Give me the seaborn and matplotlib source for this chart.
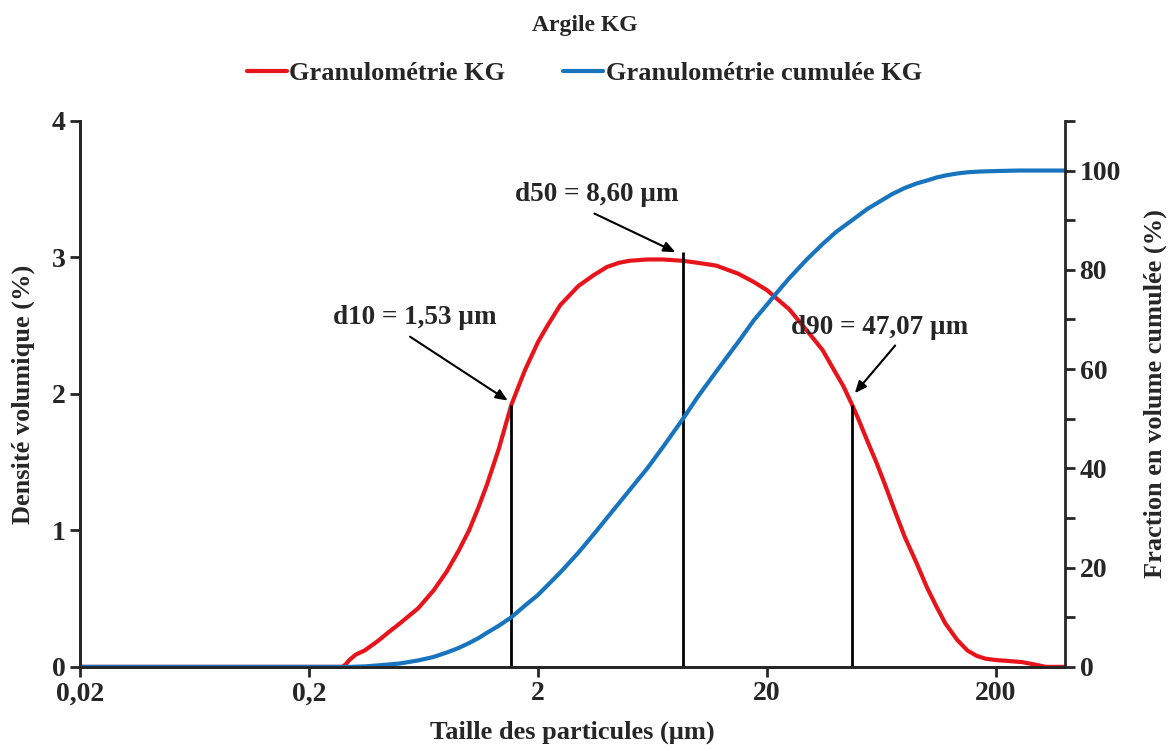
import numpy as np
import pandas as pd
import matplotlib
matplotlib.use("Agg")
import matplotlib.pyplot as plt
import seaborn as sns
from matplotlib.ticker import FixedLocator, FuncFormatter, MultipleLocator

# particle size (um) and density (%)
taille_dens = [0.02, 0.1, 0.28, 0.29, 0.30, 0.32, 0.35, 0.40, 0.45, 0.5, 0.6, 0.7, 0.8, 0.9,
               1.0, 1.1, 1.2, 1.35, 1.53, 1.75, 2.0, 2.2, 2.5, 3.0, 3.5, 4.0, 4.5, 5.0, 6.0,
               7.0, 8.6, 10, 12, 15, 17.5, 20, 22, 25, 30, 35, 40, 43, 47.07, 50, 55, 60,
               65, 72, 80, 90, 100, 110, 120, 135, 150, 165, 180, 200, 220, 260, 300, 330, 400]
densite = [0, 0, 0, 0.02, 0.05, 0.09, 0.12, 0.19, 0.26, 0.32, 0.43, 0.56, 0.70, 0.85,
           1.0, 1.17, 1.34, 1.6, 1.92, 2.17, 2.38, 2.5, 2.65, 2.79, 2.87, 2.93, 2.96, 2.975, 2.985,
           2.985, 2.975, 2.96, 2.94, 2.88, 2.82, 2.76, 2.70, 2.62, 2.46, 2.32, 2.15, 2.06, 1.92, 1.82,
           1.65, 1.5, 1.35, 1.15, 0.95, 0.76, 0.58, 0.44, 0.32, 0.2, 0.12, 0.08, 0.06, 0.05,
           0.045, 0.035, 0.015, 0, 0]

# cumulative fraction (%)
taille_cum = [0.02, 0.1, 0.3, 0.35, 0.4, 0.45, 0.5, 0.6, 0.7, 0.8, 0.9, 1.0, 1.1, 1.2, 1.35,
              1.53, 1.75, 2.0, 2.5, 3.0, 3.5, 4.0, 5.0, 6.0, 7.0, 8.6, 10, 12, 15, 17.5, 20,
              22, 25, 30, 35, 40, 47.07, 55, 65, 70, 80, 90, 100, 110, 120, 135, 150, 170,
              200, 250, 300, 400]
cumul = [0, 0, 0, 0.1, 0.3, 0.5, 0.7, 1.3, 2.0, 2.9, 3.8, 4.8, 5.8, 6.9, 8.3,
         10, 12.3, 14.5, 19, 23, 26.7, 30, 35.5, 40, 44.2, 50, 54.5, 59.5, 65.5, 69.8, 73,
         75.3, 78.3, 82.2, 85.2, 87.6, 90, 92.3, 94.3, 95.2, 96.5, 97.4, 98, 98.6, 99, 99.4, 99.65, 99.8,
         99.9, 100, 100, 100]

# characteristic diameters
d_vals = [1.53, 8.60, 47.07]
d_hauts = [1.92, 3.04, 1.92]

x_ticks = [0.02, 0.2, 2, 20, 200]

df_dens = pd.DataFrame({"taille": taille_dens, "val": densite})
df_cum = pd.DataFrame({"taille": taille_cum, "val": cumul})

sns.set_style("ticks")
plt.rcParams['font.family'] = ['Liberation Serif', 'DejaVu Serif']
plt.rcParams['font.weight'] = 'bold'

rouge = "#E8141B"
bleu = "#1874BE"

fig, ax = plt.subplots(figsize=(11.69, 7.51), dpi=100)
fig.subplots_adjust(left=0.0684, right=0.911, top=0.839, bottom=0.112)
ax2 = ax.twinx()

sns.lineplot(data=df_dens, x="taille", y="val", ax=ax, color=rouge, lw=3,
             label="Granulométrie KG", legend=False)
sns.lineplot(data=df_cum, x="taille", y="val", ax=ax2, color=bleu, lw=3,
             label="Granulométrie cumulée KG", legend=False)

ax.vlines(d_vals, 0, d_hauts, color="black", lw=2)

ax.set_xscale("log")
ax.set_xlim(0.02, 400)
ax.set_ylim(0, 4)
ax2.set_ylim(0, 110)
ax.xaxis.set_major_locator(FixedLocator(x_ticks))
ax.xaxis.set_major_formatter(FuncFormatter(lambda v, p: f"{v:g}".replace(".", ",")))
ax.xaxis.set_minor_locator(FixedLocator([]))
ax.set_yticks([0, 1, 2, 3, 4])
ax2.yaxis.set_major_locator(MultipleLocator(20))
ax2.yaxis.set_minor_locator(MultipleLocator(10))

for a in (ax, ax2):
    a.spines["top"].set_visible(False)
    for s in a.spines.values():
        s.set_linewidth(2)
    a.tick_params(which="both", length=7, width=2, labelsize=20, direction="out")
ax.spines["right"].set_visible(False)

ax.set_xlabel("Taille des particules (µm)", fontsize=19, fontweight="bold", labelpad=10)
ax.set_ylabel("Densité volumique (%)", fontsize=19, fontweight="bold", labelpad=12)
ax2.set_ylabel("Fraction en volume cumulée (%)", fontsize=19, fontweight="bold", labelpad=16)

# annotations
textes = [("d10 = 1,53 µm", (0.58, 2.56), (0.54, 2.43), (1.51, 1.94)),
          ("d50 = 8,60 µm", (3.62, 3.46), (3.44, 3.33), (8.17, 3.03)),
          ("d90 = 47,07 µm", (62.3, 2.49), (73.9, 2.37), (47.5, 1.99))]
for t, pos, tail, head in textes:
    ax.text(pos[0], pos[1], t, ha="center", va="center", fontsize=19.5, fontweight="bold")
    ax.annotate("", xy=head, xytext=tail,
                arrowprops=dict(arrowstyle="-|>,head_length=0.7,head_width=0.3",
                                color="black", lw=1.5))

fig.suptitle("Argile KG", y=0.98, fontsize=17, fontweight="bold")
h1, l1 = ax.get_legend_handles_labels()
h2, l2 = ax2.get_legend_handles_labels()
fig.legend(h1 + h2, l1 + l2, loc="center", bbox_to_anchor=(0.5, 0.902), ncol=2,
           frameon=False, fontsize=19, handlelength=1.5, handletextpad=0.1,
           columnspacing=2.2)

fig.savefig("out.png", dpi=100)
